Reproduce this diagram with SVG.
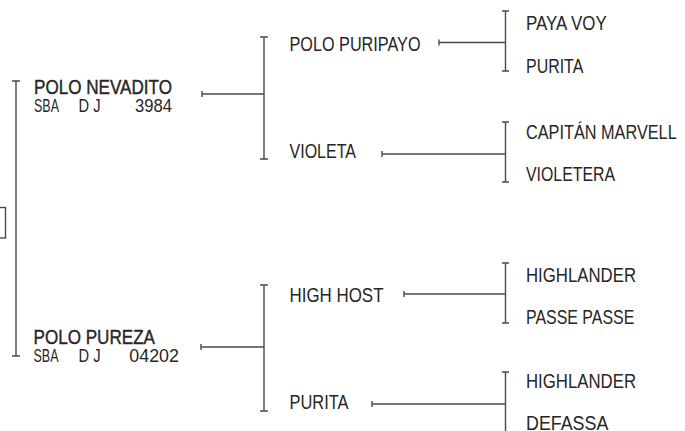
<svg xmlns="http://www.w3.org/2000/svg" width="685" height="431" viewBox="0 0 685 431">
<style>
  .t{font-family:"Liberation Sans",Arial,sans-serif;font-size:20px;fill:#262626}
  .b{stroke:#262626;stroke-width:0.4}
  .s{font-size:18.5px}
  .c{fill:none;stroke:#4a4a4a;stroke-width:1.4}
</style>
<rect width="685" height="431" fill="#ffffff"/>
<g id="connectors" class="c">
  <rect x="-10" y="207.5" width="15.5" height="30.5"/>
  <path d="M12,81H20M16,81V356M12,356H20"/>
  <path d="M202,91V97M202,94H264"/>
  <path d="M260,37H268M264,37V159M260,159H268"/>
  <path d="M439,39.5V45.5M439,42.5H506"/>
  <path d="M382,151V157M382,154H506"/>
  <path d="M502,11H509M505.5,11V71M502,71H509"/>
  <path d="M502,122H509M505.5,122V182M502,182H509"/>
  <path d="M201,344V350M201,347H264"/>
  <path d="M260,285H268M264,285V411M260,411H268"/>
  <path d="M404,291V297M404,294H506"/>
  <path d="M372,401V407M372,404H506"/>
  <path d="M502,263H509M505.5,263V323M502,323H509"/>
  <path d="M502,372H509M505.5,372V432"/>
</g>
<g id="polo-nevadito">
  <text class="t b" x="34" y="94" textLength="138" lengthAdjust="spacingAndGlyphs">POLO NEVADITO</text>
  <text class="t s" x="34" y="111.5" textLength="25" lengthAdjust="spacingAndGlyphs">SBA</text>
  <text class="t s" x="78.5" y="111.5" textLength="22" lengthAdjust="spacingAndGlyphs">D J</text>
  <text class="t s" x="135" y="111.5" textLength="37" lengthAdjust="spacingAndGlyphs">3984</text>
</g>
<g id="polo-pureza">
  <text class="t b" x="33.5" y="344.3" textLength="121.5" lengthAdjust="spacingAndGlyphs">POLO PUREZA</text>
  <text class="t s" x="33.5" y="361.5" textLength="25" lengthAdjust="spacingAndGlyphs">SBA</text>
  <text class="t s" x="78.5" y="361.5" textLength="22" lengthAdjust="spacingAndGlyphs">D J</text>
  <text class="t s" x="129.3" y="361.5" textLength="49.7" lengthAdjust="spacingAndGlyphs">04202</text>
</g>
<g id="polo-puripayo">
  <text class="t" x="289.5" y="51.3" textLength="131" lengthAdjust="spacingAndGlyphs">POLO PURIPAYO</text>
</g>
<g id="violeta">
  <text class="t" x="289.5" y="158.2" textLength="66.5" lengthAdjust="spacingAndGlyphs">VIOLETA</text>
</g>
<g id="high-host">
  <text class="t" x="289.5" y="302.3" textLength="94" lengthAdjust="spacingAndGlyphs">HIGH HOST</text>
</g>
<g id="purita-mid">
  <text class="t" x="289.5" y="409" textLength="59" lengthAdjust="spacingAndGlyphs">PURITA</text>
</g>
<g id="paya-voy">
  <text class="t" x="526" y="30" textLength="80.7" lengthAdjust="spacingAndGlyphs">PAYA VOY</text>
</g>
<g id="purita-right">
  <text class="t" x="526" y="73" textLength="57.3" lengthAdjust="spacingAndGlyphs">PURITA</text>
</g>
<g id="capitan-marvell">
  <text class="t" x="526" y="139.3" textLength="150.7" lengthAdjust="spacingAndGlyphs">CAPITÁN MARVELL</text>
</g>
<g id="violetera">
  <text class="t" x="526" y="180.7" textLength="89" lengthAdjust="spacingAndGlyphs">VIOLETERA</text>
</g>
<g id="highlander-1">
  <text class="t" x="526" y="281.7" textLength="110" lengthAdjust="spacingAndGlyphs">HIGHLANDER</text>
</g>
<g id="passe-passe">
  <text class="t" x="526" y="324" textLength="108.3" lengthAdjust="spacingAndGlyphs">PASSE PASSE</text>
</g>
<g id="highlander-2">
  <text class="t" x="526" y="388.3" textLength="110" lengthAdjust="spacingAndGlyphs">HIGHLANDER</text>
</g>
<g id="defassa">
  <text class="t" x="526" y="430" textLength="82.3" lengthAdjust="spacingAndGlyphs">DEFASSA</text>
</g>
</svg>
